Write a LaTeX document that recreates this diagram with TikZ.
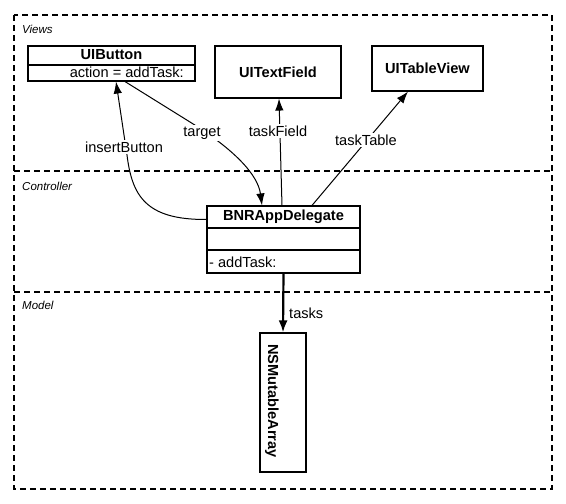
\documentclass[tikz,border=0pt]{standalone}
\usepackage{fontspec}
\setmainfont{Liberation Sans}
\usetikzlibrary{arrows.meta}
\begin{document}
\begin{tikzpicture}[x=1pt,y=-1pt,
  region/.style={draw, line width=1.1pt, dash pattern=on 6pt off 4pt},
  cls/.style={draw, line width=1.1pt, rectangle, inner sep=0pt},
  ttl/.style={font=\fontsize{14.6}{17}\selectfont\bfseries, inner sep=0pt},
  lbl/.style={font=\fontsize{14.6}{17}\selectfont, fill=white, inner sep=1.5pt},
  txt/.style={font=\fontsize{14.6}{17}\selectfont, inner sep=0pt},
  zone/.style={font=\fontsize{11.5}{13}\selectfont\itshape, anchor=base west, inner sep=0pt},
  conn/.style={line width=1pt, -{Latex[length=12pt,width=8.5pt]}},
]
\useasboundingbox (0,0) rectangle (566,504);
% regions
\draw[region] (14,15) rectangle (552,489);
\draw[region] (14,171) -- (552,171);
\draw[region] (14,292) -- (552,292);
\node[zone] (zviews) at (22,33) {Views};
\node[zone] (zctrl) at (22,190) {Controller};
\node[zone] (zmodel) at (22,309) {Model};
% classes
\node[cls, minimum width=167pt, minimum height=35pt] (btn) at (111.5,63.5) {};
\draw[line width=1.1pt] (btn.west |- 0,65) -- (btn.east |- 0,65);
\node[ttl] (btnt) at (111.5,55) {UIButton};
\node[txt, anchor=east] (btna) at (184,72) {action = addTask:};
\node[cls, minimum width=126pt, minimum height=52pt] (tf) at (278,72) {};
\node[ttl] (tft) at (278,72) {UITextField};
\node[cls, minimum width=111pt, minimum height=45pt] (tv) at (427.5,68.5) {};
\node[ttl] (tvt) at (427.5,68.5) {UITableView};
\node[cls, minimum width=153pt, minimum height=67pt] (d) at (283.5,239.5) {};
\draw[line width=1.1pt] (d.west |- 0,228) -- (d.east |- 0,228);
\draw[line width=1.1pt] (d.west |- 0,250) -- (d.east |- 0,250);
\node[ttl] (dt) at (283.5,217) {BNRAppDelegate};
\node[txt, anchor=west] (dm) at (209,262) {- addTask:};
\node[cls, minimum width=46pt, minimum height=139pt] (arr) at (283,402.5) {};
\node[ttl, rotate=-90] (arrt) at (272,401) {NSMutableArray};
% connectors
\draw[conn] ([yshift=-14pt]d.north west) .. controls (145,220) and (132,195) .. (127,155) -- ([xshift=4.5pt]btn.south);
\node[lbl] (l1) at (124,147) {insertButton};
\draw[conn] ([xshift=13.5pt]btn.south) -- (190,122) .. controls (235,150) and (258,175) .. ([xshift=-21.5pt]d.north);
\node[lbl] (l2) at (202,133) {target};
\draw[conn] ([xshift=-1.5pt]d.north) -- ([xshift=1pt]tf.south);
\node[lbl] (l3) at (278,131) {taskField};
\draw[conn] ([xshift=28.5pt]d.north) -- ([xshift=-19.5pt]tv.south);
\node[lbl] (l4) at (366,140) {taskTable};
\draw[line width=2.2pt, -{Latex[length=12pt,width=9pt]}] (d.south) -- (arr.north);
\node[txt, anchor=west] (l5) at (289,313) {tasks};
\end{tikzpicture}
\end{document}
